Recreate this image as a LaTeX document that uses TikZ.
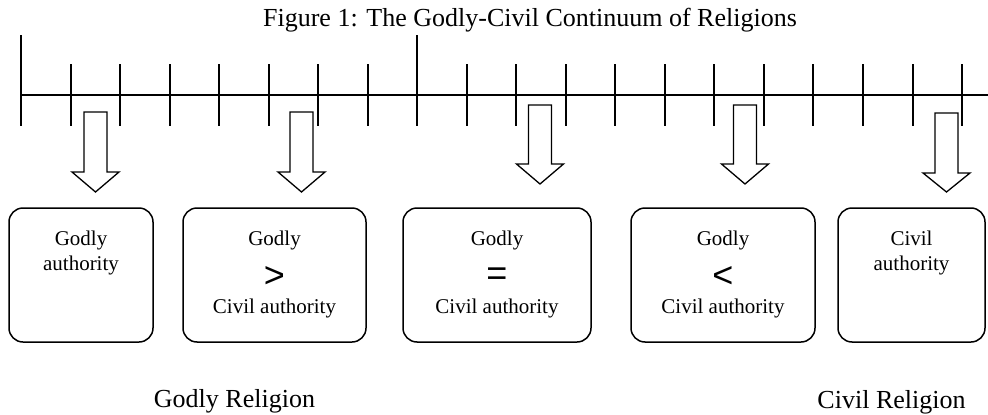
\documentclass[tikz,border=0pt]{standalone}
\usepackage{fontspec}
\setmainfont{Liberation Serif}
\newfontfamily\symfont{Liberation Sans}
\newcommand\darrow[4]{\draw[barr] ({#1-11.5},#2) -- ({#1+11.5},#2) -- ({#1+11.5},#3) -- ({#1+23.5},#3) -- (#1,#4) -- ({#1-23.5},#3) -- ({#1-11.5},#3) -- cycle;}
\begin{document}
\begin{tikzpicture}[x=1pt,y=-1pt,
  axisline/.style={line width=2pt},
  tickline/.style={line width=2pt},
  barr/.style={draw=black, fill=white, line width=1.3pt, line join=miter},
  sbox/.style={draw, line width=1.5pt, rounded corners=14pt, inner sep=0pt, minimum height=134pt},
  btxt/.style={anchor=base, inner sep=0pt, font=\fontsize{21}{25}\selectfont},
  bsym/.style={anchor=center, inner sep=0pt, font=\symfont\fontsize{36}{40}\selectfont},
  big/.style={anchor=base, inner sep=0pt, font=\fontsize{26}{30}\selectfont}]
\useasboundingbox (0,0) rectangle (988,415);
% title
\node[big] (title) at (530,27) {Figure 1: The Godly-Civil Continuum of Religions};
% axis
\draw[axisline] (21,95) -- (988,95);
\foreach \k in {0,...,19}{
  \pgfmathsetmacro\xx{21+49.53*\k}
  \ifnum\k=0 \draw[tickline] (\xx,35) -- (\xx,126);
  \else\ifnum\k=8 \draw[tickline] (\xx,35) -- (\xx,126);
  \else \draw[tickline] (\xx,64) -- (\xx,126);
  \fi\fi
}
% block arrows
\darrow{95.5}{112}{172}{192}
\darrow{301.5}{112}{172}{192}
\darrow{540}{105}{164}{184}
\darrow{745}{105}{164}{184}
\darrow{946.5}{113}{173}{192}
% boxes
\node[sbox, minimum width=144pt] (b1) at (81,275) {};
\node[sbox, minimum width=183pt] (b2) at (274.5,275) {};
\node[sbox, minimum width=188pt] (b3) at (497,275) {};
\node[sbox, minimum width=184pt] (b4) at (723,275) {};
\node[sbox, minimum width=147pt] (b5) at (911.5,275) {};
% box texts
\node[btxt] (t1a) at (81,245) {Godly};
\node[btxt] (t1b) at (81,270) {authority};
\node[btxt] (t2a) at (274.5,245) {Godly};
\node[bsym] (t2s) at (274.5,277) {>};
\node[btxt] (t2b) at (274.5,313) {Civil authority};
\node[btxt] (t3a) at (497,245) {Godly};
\node[bsym] (t3s) at (497,277) {=};
\node[btxt] (t3b) at (497,313) {Civil authority};
\node[btxt] (t4a) at (723,245) {Godly};
\node[bsym] (t4s) at (723,277) {<};
\node[btxt] (t4b) at (723,313) {Civil authority};
\node[btxt] (t5a) at (911.5,245) {Civil};
\node[btxt] (t5b) at (911.5,270) {authority};
% bottom labels
\node[big] (gr) at (234.5,407) {Godly Religion};
\node[big] (cr) at (891.5,408) {Civil Religion};
\end{tikzpicture}
\end{document}
